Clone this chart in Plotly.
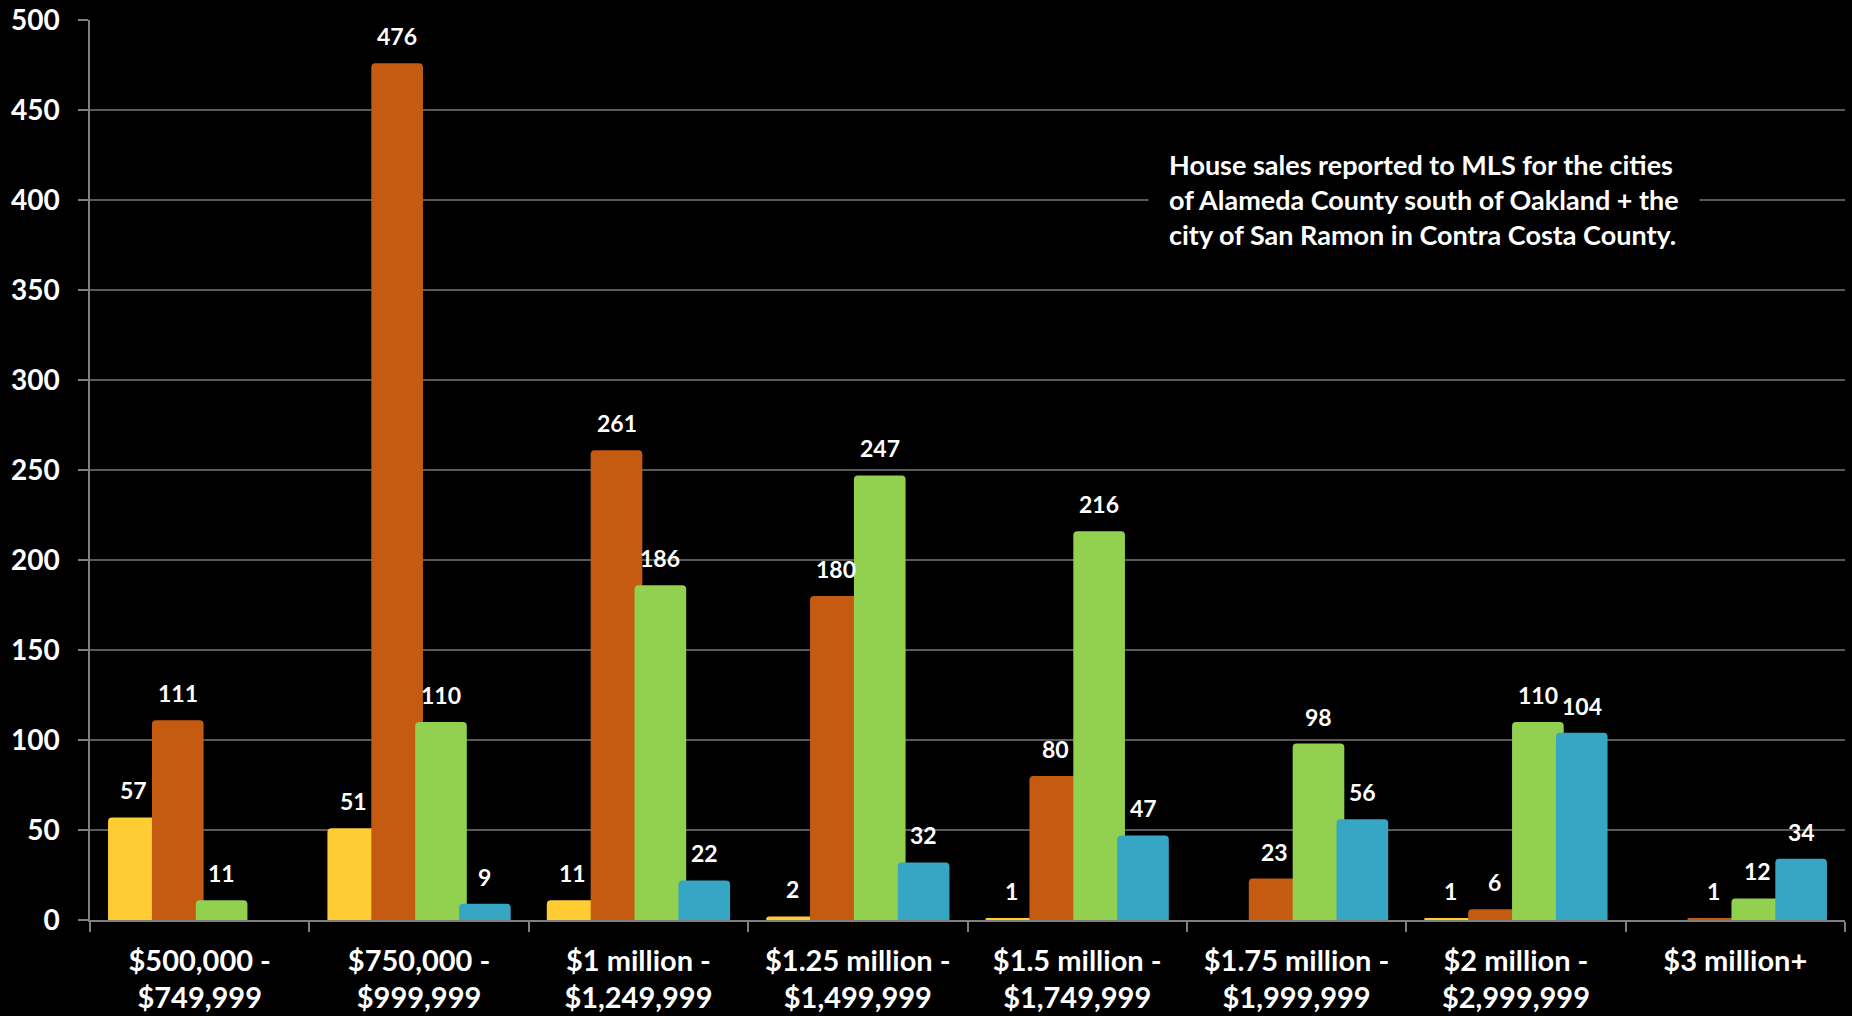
import plotly.graph_objects as go

# Price bands (x categories)
categories = [
    "$500,000 -<br>$749,999",
    "$750,000 -<br>$999,999",
    "$1 million -<br>$1,249,999",
    "$1.25 million -<br>$1,499,999",
    "$1.5 million -<br>$1,749,999",
    "$1.75 million -<br>$1,999,999",
    "$2 million -<br>$2,999,999",
    "$3 million+",
]

# House sales counts per series (None = no bar)
series_1 = [57, 51, 11, 2, 1, None, 1, None]
series_2 = [111, 476, 261, 180, 80, 23, 6, 1]
series_3 = [11, 110, 186, 247, 216, 98, 110, 12]
series_4 = [None, 9, 22, 32, 47, 56, 104, 34]

y_ticks = [0, 50, 100, 150, 200, 250, 300, 350, 400, 450, 500]

note_lines = [
    "House sales reported to MLS for the cities",
    "of Alameda County south of Oakland + the",
    "city of San Ramon in Contra Costa County.",
]

series = [
    ("Series 1", series_1, "#FFCD33"),
    ("Series 2", series_2, "#C55A11"),
    ("Series 3", series_3, "#92D050"),
    ("Series 4", series_4, "#37A6C4"),
]

FONT = "Lato"
BAR_W = 0.2354   # bar width in category units
STEP = 0.2       # spacing between neighbouring bars (bars overlap slightly)
START = -(3 * STEP + BAR_W) / 2

fig = go.Figure()
annotations = []
for k, (name, vals, color) in enumerate(series):
    off = START + k * STEP
    fig.add_trace(go.Bar(
        name=name,
        x=categories,
        y=vals,
        offset=off,
        width=BAR_W,
        marker=dict(color=color, line=dict(width=0)),
        hoverinfo="x+y+name",
    ))
    for i, v in enumerate(vals):
        if v is None:
            continue
        annotations.append(dict(
            x=i + off + BAR_W / 2, y=v, xref="x", yref="y",
            text=str(v), showarrow=False,
            yanchor="bottom", xanchor="center", yshift=11,
            font=dict(family=FONT, size=23, color="white", weight="bold"),
        ))

# Note box; black background hides the gridline behind it
annotations.append(dict(
    x=0.6028, y=0.80, xref="paper", yref="paper",
    text="<br>".join(note_lines), showarrow=False, align="left",
    xanchor="left", yanchor="middle",
    bgcolor="black", borderpad=20,
    font=dict(family=FONT, size=27, color="white", weight="bold"),
))

fig.update_layout(
    width=1852, height=1016,
    paper_bgcolor="black", plot_bgcolor="black",
    barmode="overlay",
    barcornerradius=4,
    showlegend=False,
    margin=dict(l=90, r=7, t=20, b=96),
    annotations=annotations,
    font=dict(family=FONT, color="white"),
)

fig.update_yaxes(
    range=[0, 500], tickvals=y_ticks, automargin=False,
    showgrid=True, gridcolor="#5a5a5a", gridwidth=1.5,
    showline=True, linecolor="#7f7f7f", linewidth=1.5,
    ticks="outside", ticklen=10, tickcolor="#7f7f7f", tickwidth=1.5,
    ticklabelstandoff=13,
    tickfont=dict(family=FONT, size=28, color="white", weight="bold"),
    zeroline=False,
)
fig.update_xaxes(
    type="category", tickson="boundaries", automargin=False,
    showline=True, linecolor="#7f7f7f", linewidth=1.5,
    ticks="outside", ticklen=10, tickcolor="#7f7f7f", tickwidth=1.5,
    showgrid=False,
    tickfont=dict(family=FONT, size=29, color="white", weight="bold"),
    ticklabelstandoff=14,
)

fig.write_html("out.html")
